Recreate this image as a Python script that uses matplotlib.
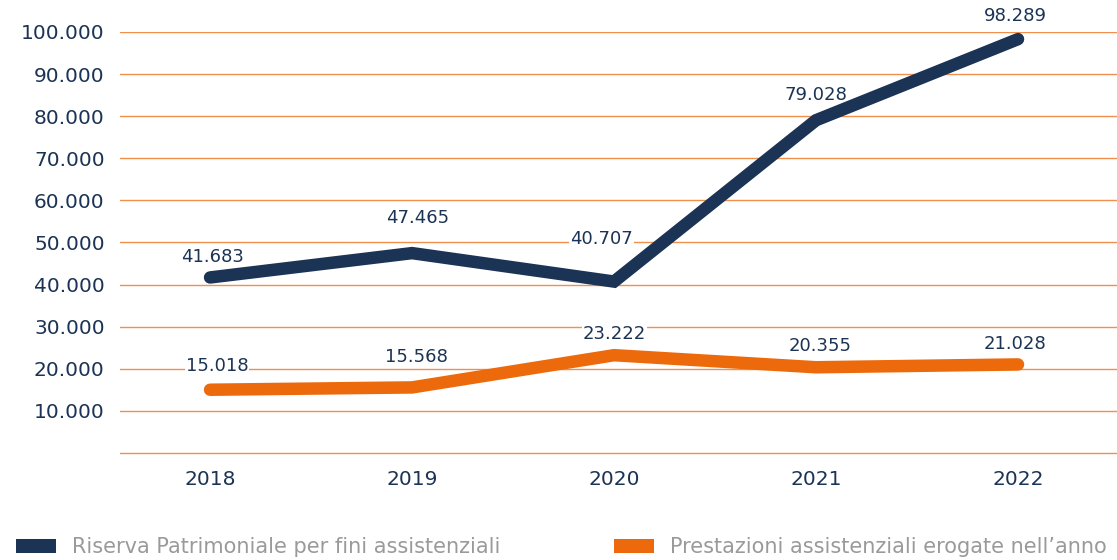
import matplotlib as mplib
mplib.use('Agg')
import matplotlib.pyplot as plt
from matplotlib.patches import Patch

years = ['2018', '2019', '2020', '2021', '2022']
riserva = [41683, 47465, 40707, 79028, 98289]
prestazioni = [15018, 15568, 23222, 20355, 21028]
riserva_labels = ['41.683', '47.465', '40.707', '79.028', '98.289']
prestazioni_labels = ['15.018', '15.568', '23.222', '20.355', '21.028']
yticks = [0, 10000, 20000, 30000, 40000, 50000, 60000, 70000, 80000, 90000, 100000]
ytick_labels = ['', '10.000', '20.000', '30.000', '40.000', '50.000',
                '60.000', '70.000', '80.000', '90.000', '100.000']
legend_names = ['Riserva Patrimoniale per fini assistenziali',
                'Prestazioni assistenziali erogate nell\u2019anno']

NAVY = '#1b3354'
ORANGE = '#ec6a0c'
GRID = '#f0904a'

mplib.rc('font', family=['DejaVu Sans'])

fig = plt.figure(figsize=(11.17, 5.6), dpi=100)
ax = fig.add_axes([0.1074, 0.1836, 0.8926, 0.7594])

x = list(range(len(years)))
ax.plot(x, riserva, color=NAVY, lw=9, solid_capstyle='round', solid_joinstyle='miter', zorder=3)
ax.plot(x, prestazioni, color=ORANGE, lw=9, solid_capstyle='round', solid_joinstyle='miter', zorder=3)

# label offsets in points (dx, dy)
off_r = [(2, 15), (4, 25), (-9, 31), (0, 18), (-2, 17)]
off_p = [(5, 17), (3, 22), (0, 15), (3, 15), (-2, 15)]
for i in x:
    ax.annotate(riserva_labels[i], (i, riserva[i]), xytext=off_r[i], textcoords='offset points',
                ha='center', va='center', fontsize=13, color=NAVY, zorder=2.5, annotation_clip=False,
                bbox=dict(boxstyle='square,pad=0.05', fc='white', ec='none'))
    ax.annotate(prestazioni_labels[i], (i, prestazioni[i]), xytext=off_p[i], textcoords='offset points',
                ha='center', va='center', fontsize=13, color=NAVY, zorder=2.5, annotation_clip=False,
                bbox=dict(boxstyle='square,pad=0.05', fc='white', ec='none'))

ax.set_xlim(-0.446, 4.49)
ax.set_ylim(-1000, 100000)
ax.set_yticks(yticks)
ax.set_yticklabels(ytick_labels)
ax.set_xticks(x)
ax.set_xticklabels(years)
ax.tick_params(axis='y', length=0, pad=11, labelsize=14.5, labelcolor=NAVY)
ax.tick_params(axis='x', length=0, pad=9.5, labelsize=14.5, labelcolor=NAVY)
ax.grid(True, axis='y', color=GRID, lw=1.0)
ax.set_axisbelow(True)
for s in ax.spines.values():
    s.set_visible(False)

handles = [Patch(facecolor=NAVY, edgecolor='none'), Patch(facecolor=ORANGE, edgecolor='none')]
fig.legend(handles, legend_names, loc='center left', bbox_to_anchor=(0.005, 0.023), ncol=2,
           frameon=False, fontsize=15, labelcolor='#9a9a9a', handlelength=1.92,
           handleheight=0.62, handletextpad=0.77, columnspacing=5.45, borderpad=0)

fig.savefig('out.png', dpi=100)
plt.close('all')
